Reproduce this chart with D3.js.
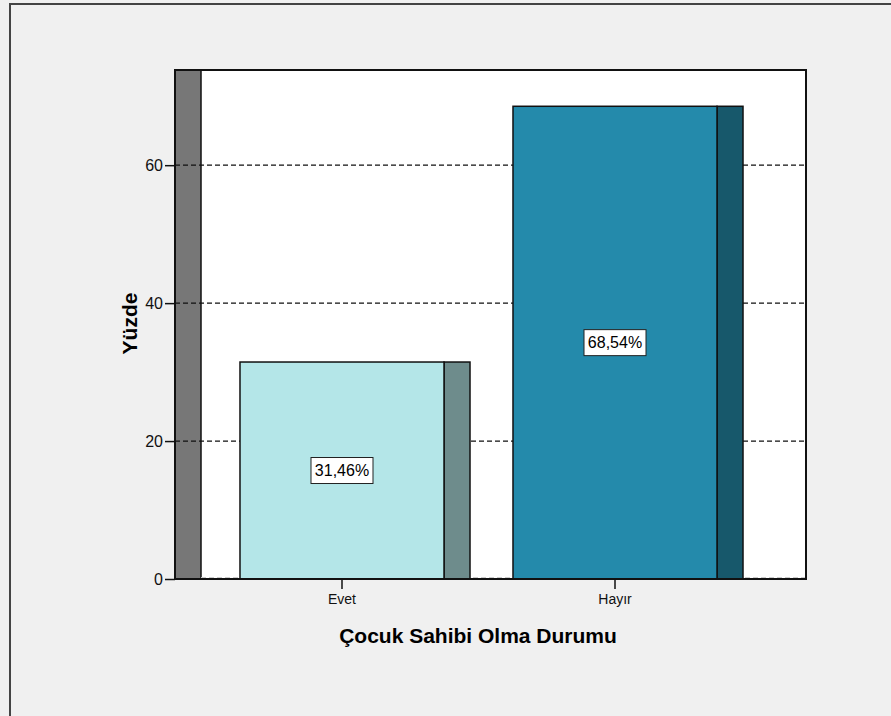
<!DOCTYPE html>
<html>
<head>
<meta charset="utf-8">
<script src="https://cdn.jsdelivr.net/npm/d3@7"></script>
<style>
  html, body { margin: 0; padding: 0; background: #f0f0f0; }
  svg { display: block; font-family: "Liberation Sans", Arial, sans-serif; }
</style>
</head>
<body>
<svg id="chart" width="891" height="716"></svg>
<script>
// Child status distribution (percent)
const categories = ["Evet", "Hayır"];
const percents = [31.46, 68.54];
const valueLabels = ["31,46%", "68,54%"];
const yTicks = [0, 20, 40, 60];
const frontColors = ["#b4e6e8", "#248aab"];
const sideColors = ["#6e8c8c", "#17586b"];

(function () {
const svg = d3.select("#chart");
const W = 891, H = 716;

// Outer chart frame
svg.append("rect").attr("x", 0).attr("y", 0).attr("width", W).attr("height", H).attr("fill", "#f0f0f0");
svg.append("path").attr("d", `M10,${H + 5} L10,4 L${W + 5},4`)
  .attr("fill", "none").attr("stroke", "#444").attr("stroke-width", 2);

// Plot geometry
const plotLeft = 175, plotRight = 806, plotTop = 70, plotBottom = 579;
const depth = 26;

const y = d3.scaleLinear().domain([0, 73.8]).range([plotBottom, plotTop]);
const x = d3.scaleBand().domain(categories)
  .range([plotLeft + 1, plotRight - depth + 1]).paddingInner(0.2527).paddingOuter(0.2344);

// Plot background
svg.append("rect").attr("x", plotLeft).attr("y", plotTop)
  .attr("width", plotRight - plotLeft).attr("height", plotBottom - plotTop).attr("fill", "#fff");

// Left wall of the 3D plot
svg.append("rect").attr("x", plotLeft).attr("y", plotTop)
  .attr("width", depth).attr("height", plotBottom - plotTop)
  .attr("fill", "#777").attr("stroke", "#111").attr("stroke-width", 1.5);

// Dashed gridlines
svg.append("g").selectAll("line").data(yTicks.filter(d => d > 0)).join("line")
  .attr("x1", plotLeft).attr("x2", plotRight)
  .attr("y1", d => y(d)).attr("y2", d => y(d))
  .attr("stroke", "#111").attr("stroke-width", 1.2).attr("stroke-dasharray", "5,3");

// Floor gridline at zero
svg.append("line").attr("x1", plotLeft + depth).attr("x2", plotRight)
  .attr("y1", y(0) - 1.5).attr("y2", y(0) - 1.5)
  .attr("stroke", "#ccc").attr("stroke-width", 1).attr("stroke-dasharray", "5,3");

// Bars: front face + right side face
const bars = svg.append("g").selectAll("g").data(categories).join("g");
bars.append("rect")
  .attr("x", d => x(d) + x.bandwidth())
  .attr("y", (d, i) => y(percents[i]))
  .attr("width", depth)
  .attr("height", (d, i) => y(0) - y(percents[i]))
  .attr("fill", (d, i) => sideColors[i])
  .attr("stroke", "#111").attr("stroke-width", 1.5);
bars.append("rect")
  .attr("x", d => x(d))
  .attr("y", (d, i) => y(percents[i]))
  .attr("width", x.bandwidth())
  .attr("height", (d, i) => y(0) - y(percents[i]))
  .attr("fill", (d, i) => frontColors[i])
  .attr("stroke", "#111").attr("stroke-width", 1.5);

// Value labels in boxes
bars.each(function (d, i) {
  const g = d3.select(this);
  const cx = x(d) + x.bandwidth() / 2;
  const cy = y(percents[i] / 2);
  g.append("rect").attr("x", cx - 31).attr("y", cy - 13)
    .attr("width", 62).attr("height", 26)
    .attr("fill", "#fff").attr("stroke", "#222").attr("stroke-width", 1);
  g.append("text").attr("x", cx).attr("y", cy + 5.5)
    .attr("text-anchor", "middle").attr("font-size", 16).attr("fill", "#000")
    .text(valueLabels[i]);
});

// Plot border
svg.append("rect").attr("x", plotLeft).attr("y", plotTop)
  .attr("width", plotRight - plotLeft).attr("height", plotBottom - plotTop)
  .attr("fill", "none").attr("stroke", "#111").attr("stroke-width", 2);

// Y axis
const yAxis = d3.axisLeft(y).tickValues(yTicks).tickSize(10).tickPadding(2);
const gy = svg.append("g").attr("transform", `translate(${plotLeft},0)`).call(yAxis);
gy.select(".domain").remove();
gy.selectAll(".tick line").attr("stroke", "#111").attr("stroke-width", 1.5);
gy.selectAll(".tick text").attr("font-size", 16).attr("fill", "#111")
  .attr("font-family", "Liberation Sans, Arial, sans-serif");

// X axis
const xAxis = d3.axisBottom(x).tickSize(10).tickPadding(5);
const gx = svg.append("g").attr("transform", `translate(0,${plotBottom})`).call(xAxis);
gx.select(".domain").remove();
gx.selectAll(".tick line").attr("stroke", "#111").attr("stroke-width", 1.5);
gx.selectAll(".tick text").attr("font-size", 14).attr("fill", "#111")
  .attr("font-family", "Liberation Sans, Arial, sans-serif");

// Axis titles
svg.append("text").attr("x", 478).attr("y", 643)
  .attr("text-anchor", "middle").attr("font-size", 21).attr("font-weight", "bold")
  .text("Çocuk Sahibi Olma Durumu");
svg.append("text")
  .attr("transform", `translate(137,${(plotTop + plotBottom) / 2 - 1}) rotate(-90)`)
  .attr("text-anchor", "middle").attr("font-size", 21).attr("font-weight", "bold")
  .text("Yüzde");
})();
</script>
</body>
</html>
